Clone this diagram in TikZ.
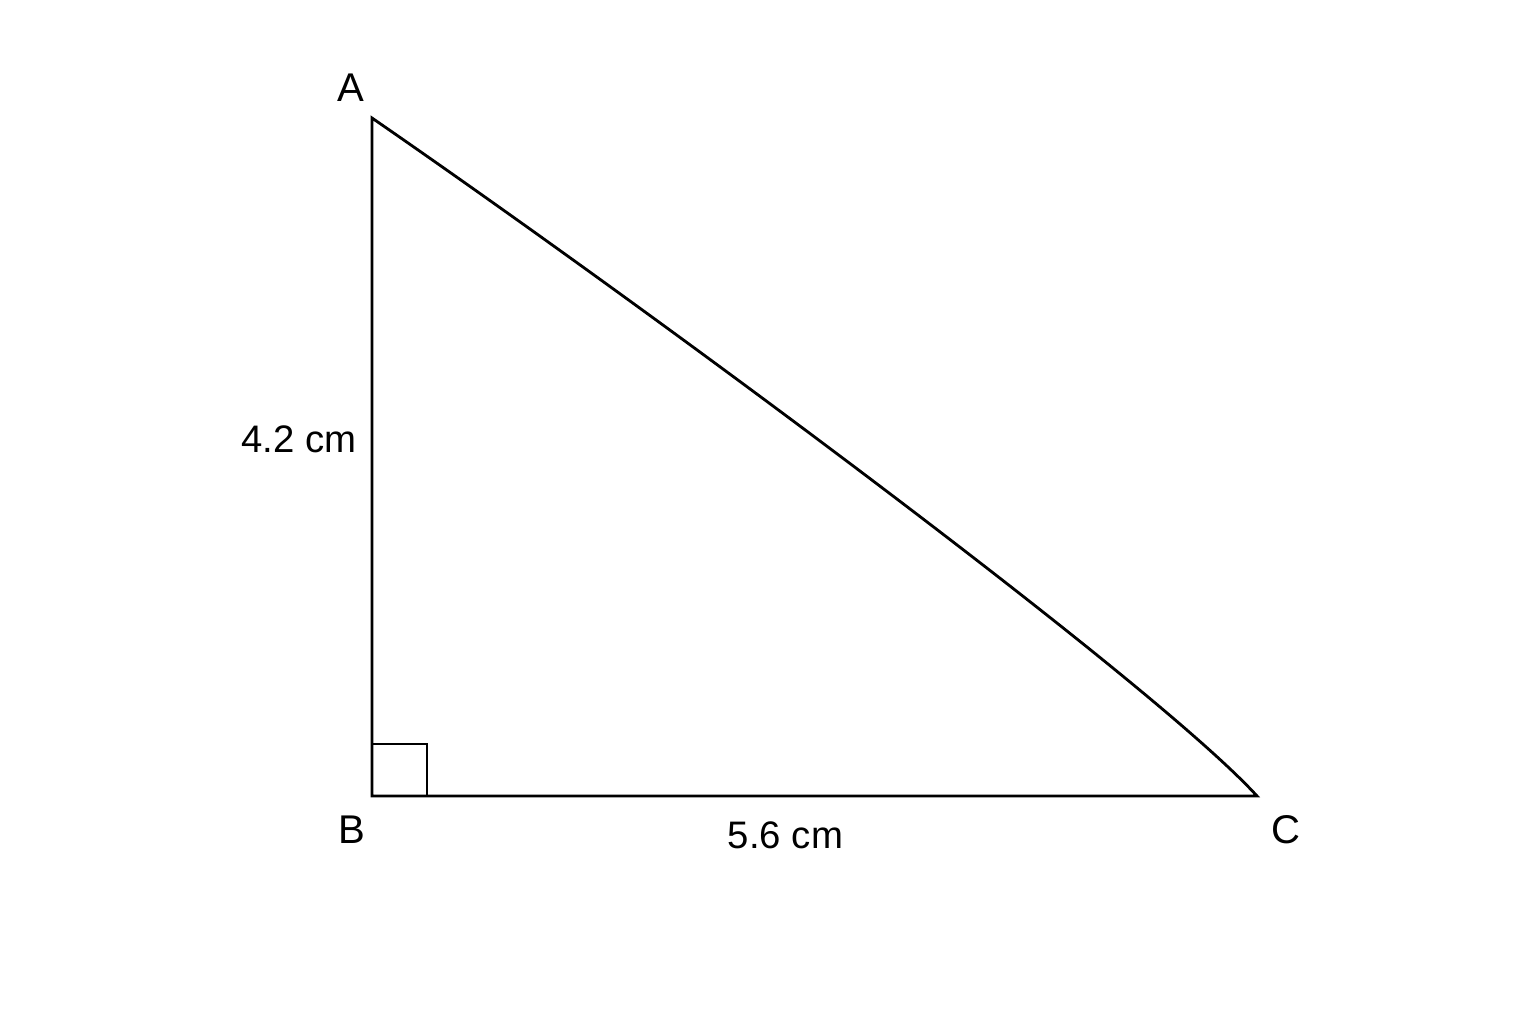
\documentclass[tikz,border=0pt]{standalone}
\usepackage{fontspec}
\setmainfont{Liberation Sans}
\begin{document}
\begin{tikzpicture}[x=0.01cm,y=-0.01cm,
  edge/.style={line width=0.8pt,black,line join=miter},
  vlabel/.style={anchor=base,inner sep=0pt,font=\fontsize{11.4pt}{13pt}\selectfont},
  llabel/.style={anchor=base,inner sep=0pt,font=\fontsize{10.9pt}{13pt}\selectfont}]
\useasboundingbox[fill=white] (0,0) rectangle (1536,1024);
\coordinate (A) at (372,118);
\coordinate (B) at (372,796);
\coordinate (C) at (1257,796);
\coordinate (Q1) at (427,796);
\coordinate (Q2) at (427,744);
\coordinate (Q3) at (372,744);
\draw[edge] (A) -- (B) -- (C) .. controls (1157,686) and (672,325) .. (A) -- cycle;
\draw[edge] (Q3) -- (Q2) -- (Q1);
\node[vlabel] (lA) at (351,101) {A};
\node[vlabel] (lB) at (352,843) {B};
\node[vlabel] (lC) at (1286,843) {C};
\node[llabel] (lAB) at (299,452) {4.2 cm};
\node[llabel] (lBC) at (785.5,848) {5.6 cm};
\end{tikzpicture}
\end{document}
